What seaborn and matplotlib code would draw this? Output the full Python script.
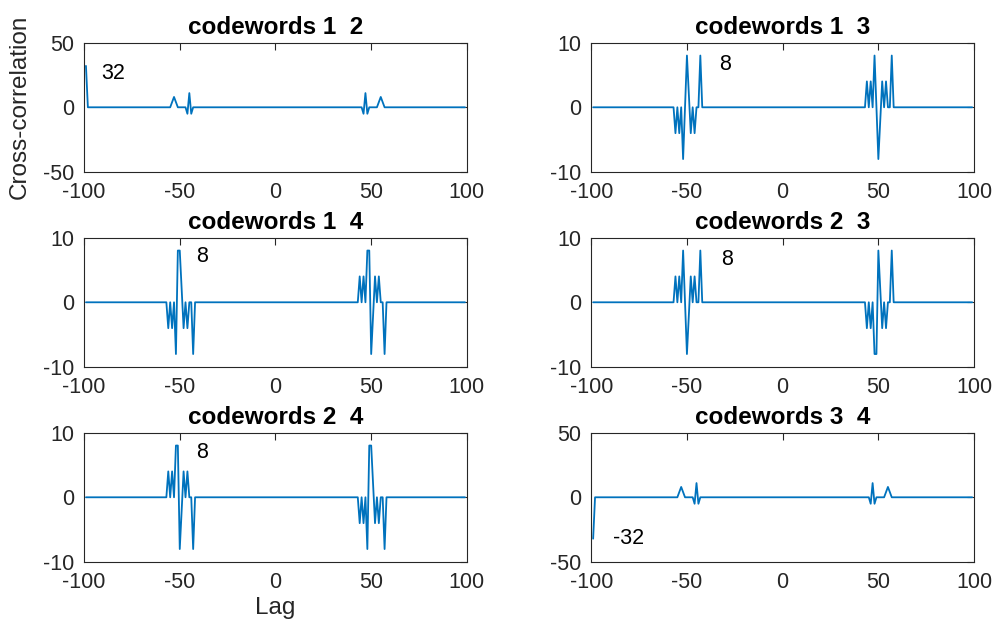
import numpy as np
import pandas as pd
import matplotlib
matplotlib.use("Agg")
import matplotlib.pyplot as plt
import seaborn as sns

# ---- data ----
lags = list(range(-99, 100))

titles = ["codewords 1  2", "codewords 1  3", "codewords 1  4",
          "codewords 2  3", "codewords 2  4", "codewords 3  4"]

# non-zero cross-correlation values (lag -> value), all other lags are 0
p12_lags = [-99, -54, -53, -52, -46, -45, -44, 46, 47, 48, 54, 55, 56]
p12_vals = [32, 4, 8, 4, -5, 11, -5, -5, 11, -5, 4, 8, 4]

p13_lags = [-56, -54, -52, -50, -49, -48, -46, -43, 44, 46, 48, 50, 51, 52, 54, 57]
p13_vals = [-4, -4, -8, 8, 2, -4, -4, 8, 4, 4, 8, -8, -2, 4, 4, 8]

p14_lags = [-56, -54, -52, -51, -50, -49, -48, -46, -43, 44, 46, 48, 49, 50, 51, 52, 54, 57]
p14_vals = [-4, -4, -8, 8, 8, 2, -4, -4, -8, 4, 4, 8, 8, -8, -2, 4, 4, -8]

p23_lags = [-56, -54, -52, -50, -49, -48, -46, -43, 44, 46, 48, 49, 50, 51, 52, 54, 57]
p23_vals = [4, 4, 8, -8, -2, 4, 4, 8, -4, -4, -8, -8, 8, 2, -4, -4, 8]

p24_lags = [-56, -54, -52, -51, -50, -49, -48, -46, -43, 44, 46, 48, 49, 50, 51, 52, 54, 57]
p24_vals = [4, 4, 8, 8, -8, -2, 4, 4, -8, -4, -4, -8, 8, 8, 2, -4, -4, -8]

p34_lags = [-99, -54, -53, -52, -46, -45, -44, 46, 47, 48, 54, 55, 56]
p34_vals = [-32, 4, 8, 4, -5, 11, -5, -5, 11, -5, 4, 8, 4]

ylims = [50, 10, 10, 10, 10, 50]
ann_text = ["32", "8", "8", "8", "8", "-32"]
ann_x = [-91, -33.3, -41.5, -32, -41.5, -88.5]
ann_y = [26.4, 6.6, 7.1, 6.6, 6.9, -31.5]

xticks = [-100, -50, 0, 50, 100]

# ---- style ----
sns.set_style("white")
plt.rcParams['font.family'] = ['Liberation Sans', 'DejaVu Sans']
plt.rcParams['axes.unicode_minus'] = False

fig = plt.figure(figsize=(9.97, 6.22), dpi=100)

col_left = [0.0843, 0.593]
width = 0.384
row_bottom = [0.7235, 0.41, 0.0965]
height = 0.208

series = [(p12_lags, p12_vals), (p13_lags, p13_vals), (p14_lags, p14_vals),
          (p23_lags, p23_vals), (p24_lags, p24_vals), (p34_lags, p34_vals)]

edge = "#262626"
axes = []
for i, (sl, sv) in enumerate(series):
    r, c = divmod(i, 2)
    ax = fig.add_axes([col_left[c], row_bottom[r], width, height])
    vals = pd.Series(0.0, index=lags)
    vals.loc[sl] = sv
    df = pd.DataFrame({"lag": lags, "xc": vals.values})
    sns.lineplot(data=df, x="lag", y="xc", ax=ax, color="#0072BD", linewidth=1.3)
    ax.set_xlim(-100, 100)
    ax.set_ylim(-ylims[i], ylims[i])
    ax.set_xticks(xticks)
    ax.set_yticks([-ylims[i], 0, ylims[i]])
    ax.set_xlabel("")
    ax.set_ylabel("")
    ax.tick_params(direction="in", length=5, width=0.8, colors=edge,
                   labelsize=15.5, top=True, right=True, pad=7)
    for s in ax.spines.values():
        s.set_visible(True)
        s.set_color(edge)
        s.set_linewidth(0.8)
    ax.set_title(titles[i], fontsize=17.5, fontweight="bold", pad=6, color="black")
    ax.text(ann_x[i], ann_y[i], ann_text[i], fontsize=15.5, va="center", ha="left",
            color="black")
    axes.append(ax)

axes[0].set_ylabel("Cross-correlation", fontsize=17.5, color=edge, labelpad=9)
axes[4].set_xlabel("Lag", fontsize=17.5, color=edge, labelpad=3)

fig.savefig("out.png", dpi=100, facecolor="white")
